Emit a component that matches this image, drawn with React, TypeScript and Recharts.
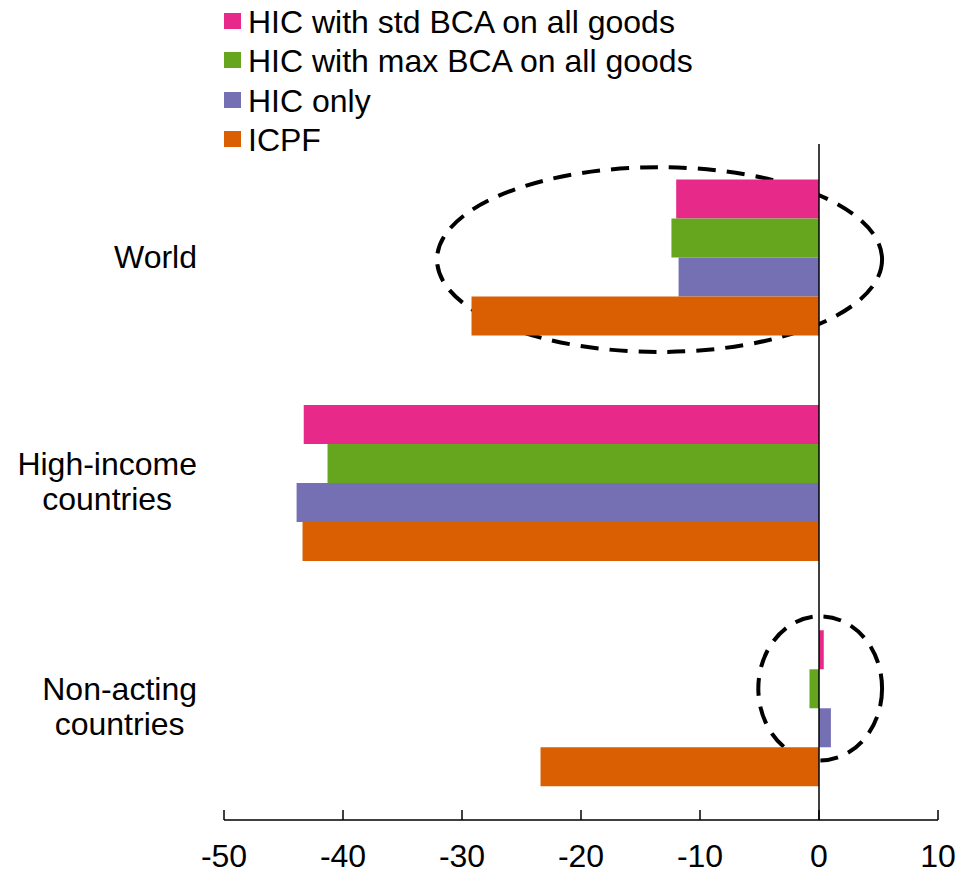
import React from 'react'
import { BarChart, Bar, XAxis, YAxis, ReferenceLine, ReferenceArea } from 'recharts'

// regions, top to bottom
const regions = ['World', 'High-income countries', 'Non-acting countries']
const regionLines: Record<string, string[]> = {
  'World': ['World'],
  'High-income countries': ['High-income', 'countries'],
  'Non-acting countries': ['Non-acting', 'countries'],
}

// % change
const stdBca = [-12.0, -43.3, 0.4]
const maxBca = [-12.4, -41.3, -0.8]
const hicOnly = [-11.8, -43.9, 1.0]
const icpf = [-29.2, -43.4, -23.4]

const seriesKeys = ['std', 'max', 'hic', 'icpf']
const seriesNames = ['HIC with std BCA on all goods', 'HIC with max BCA on all goods', 'HIC only', 'ICPF']
const seriesColors = ['#E7298A', '#66A61E', '#7570B3', '#D95F02']

const xTicks = [-50, -40, -30, -20, -10, 0, 10]

const FONT = '"Liberation Sans", Arial, sans-serif'
const FONT_SIZE = 32

const data = regions.map((region, i) => ({
  region,
  std: stdBca[i],
  max: maxBca[i],
  hic: hicOnly[i],
  icpf: icpf[i],
}))

let ctx: CanvasRenderingContext2D | null = null
const measure = (t: string) => {
  if (!ctx) ctx = document.createElement('canvas').getContext('2d')
  if (!ctx) return t.length * FONT_SIZE * 0.55
  ctx.font = `${FONT_SIZE}px ${FONT}`
  return ctx.measureText(t).width
}

// category labels: block right aligned, lines centred inside it
const RegionTick = (props: any) => {
  const { x, y, payload } = props
  const lines = regionLines[payload.value] || [payload.value]
  const w = Math.max(...lines.map(measure))
  const cx = x - 27 - w / 2
  const baselines = lines.length === 1 ? [y + 11] : [y - 7, y + 28]
  return (
    <g>
      {lines.map((l, i) => (
        <text key={l} x={cx} y={baselines[i]} textAnchor="middle" fontSize={FONT_SIZE} fontFamily={FONT} fill="#000">
          {l}
        </text>
      ))}
    </g>
  )
}

// x ticks point up into the plot, labels below
const ValueTick = (props: any) => {
  const { x, y, payload } = props
  return (
    <g>
      <line x1={x} x2={x} y1={y} y2={y - 10} stroke="#000" strokeWidth={1.5} />
      <text x={x} y={y + 47} textAnchor="middle" fontSize={FONT_SIZE} fontFamily={FONT} fill="#000">
        {payload.value}
      </text>
    </g>
  )
}

const DashedEllipse = (props: any) => {
  const { x, y, width, height, ryFrac, dyFrac } = props
  return (
    <ellipse
      cx={x + width / 2}
      cy={y + height / 2 + dyFrac * height}
      rx={width / 2}
      ry={height * ryFrac}
      fill="none"
      stroke="#000"
      strokeWidth={4}
      strokeDasharray="18 11"
    />
  )
}

export default function App() {
  return (
    <div style={{ position: 'absolute', left: 0, top: 0, width: 961, height: 872, background: '#fff', fontFamily: FONT }}>
      <BarChart
        width={961}
        height={872}
        data={data}
        layout="vertical"
        margin={{ top: 144, right: 23, bottom: 0, left: 0 }}
        barGap={0}
        barCategoryGap="15.8%"
      >
        <XAxis
          type="number"
          domain={[-50, 10]}
          ticks={xTicks}
          interval={0}
          height={52}
          tickSize={0}
          tickMargin={0}
          tickLine={false}
          axisLine={{ stroke: '#000', strokeWidth: 1.5 }}
          tick={<ValueTick />}
        />
        <YAxis
          type="category"
          dataKey="region"
          width={224}
          tickSize={0}
          tickMargin={0}
          axisLine={false}
          tickLine={false}
          tick={<RegionTick />}
        />
        {seriesKeys.map((k, i) => (
          <Bar key={k} dataKey={k} name={seriesNames[i]} fill={seriesColors[i]} isAnimationActive={false} />
        ))}
        <ReferenceLine x={0} stroke="#000" strokeWidth={1.5} />
        <ReferenceArea
          x1={-32.1}
          x2={5.3}
          y1="World"
          y2="World"
          ifOverflow="visible"
          shape={(p: any) => <DashedEllipse {...p} ryFrac={0.41} dyFrac={0.013} />}
        />
        <ReferenceArea
          x1={-5.1}
          x2={5.3}
          y1="Non-acting countries"
          y2="Non-acting countries"
          ifOverflow="visible"
          shape={(p: any) => <DashedEllipse {...p} ryFrac={0.32} dyFrac={-0.084} />}
        />
      </BarChart>

      {/* legend */}
      <div style={{ position: 'absolute', left: 224, top: 13 }}>
        {seriesNames.map((n, i) => (
          <div key={n} style={{ position: 'relative', height: 39.3 }}>
            <div style={{ position: 'absolute', left: 0, top: 0, width: 17, height: 16, background: seriesColors[i] }} />
            <div
              style={{
                position: 'absolute',
                left: 24,
                top: -7,
                fontSize: FONT_SIZE,
                lineHeight: `${FONT_SIZE}px`,
                whiteSpace: 'nowrap',
                color: '#000',
              }}
            >
              {n}
            </div>
          </div>
        ))}
      </div>
    </div>
  )
}
